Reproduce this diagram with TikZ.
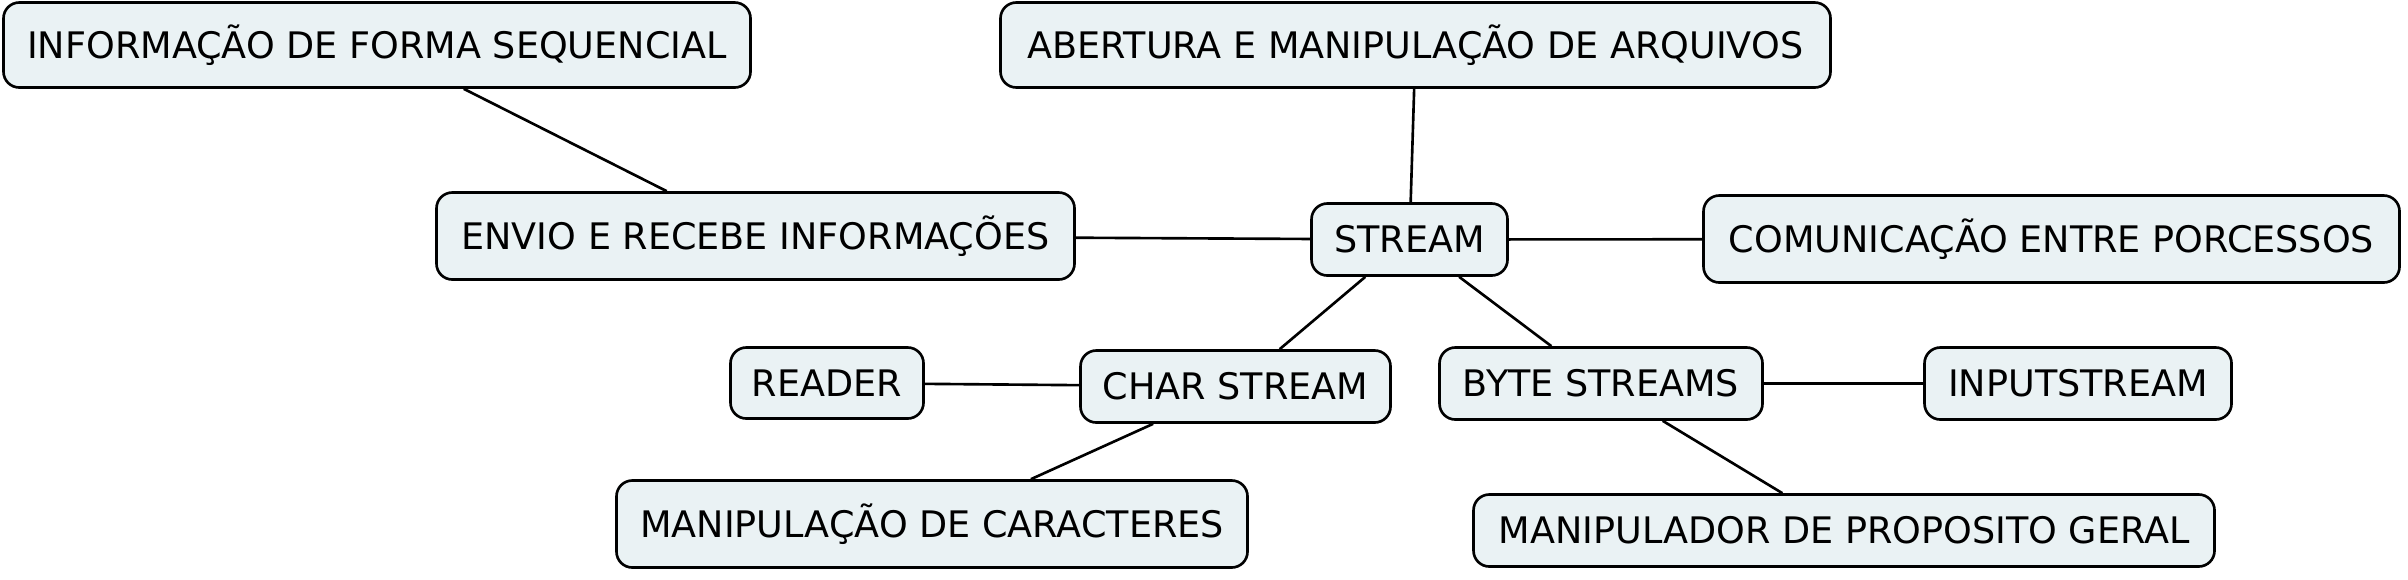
\documentclass[tikz,border=0pt]{standalone}
\usepackage{fontspec}
\setmainfont{DejaVu Sans}
\usepackage{tikz}
\usetikzlibrary{positioning}
\definecolor{nodefill}{RGB}{234,242,244}

\begin{document}
\begin{tikzpicture}[auto,line width=0.75pt,main node/.style={rectangle,rounded corners=4.5pt,draw,fill=nodefill,inner sep=0pt,font=\fontsize{10.4}{12}\selectfont}]
		\useasboundingbox (0,0) rectangle (24.08,5.79);
		\node[main node,minimum width=1.96cm,minimum height=0.72cm] (0) at (14.095,3.395) {STREAM};
		\node[main node,minimum width=7.47cm,minimum height=0.85cm] (1) at (3.77,5.34) {INFORMAÇÃO DE FORMA SEQUENCIAL};
		\node[main node,minimum width=8.30cm,minimum height=0.85cm] (2) at (14.155,5.34) {ABERTURA E MANIPULAÇÃO DE ARQUIVOS};
		\node[main node,minimum width=6.38cm,minimum height=0.87cm] (3) at (7.555,3.43) {ENVIO E RECEBE INFORMAÇÕES};
		\node[main node,minimum width=6.96cm,minimum height=0.87cm] (4) at (20.515,3.40) {COMUNICAÇÃO ENTRE PORCESSOS};
		\node[main node,minimum width=1.93cm,minimum height=0.71cm] (5) at (8.27,1.96) {READER};
		\node[main node,minimum width=3.10cm,minimum height=0.72cm] (6) at (12.355,1.925) {CHAR STREAM};
		\node[main node,minimum width=3.23cm,minimum height=0.72cm] (7) at (16.01,1.955) {BYTE STREAMS};
		\node[main node,minimum width=3.07cm,minimum height=0.72cm] (8) at (20.78,1.955) {INPUTSTREAM};
		\node[main node,minimum width=6.31cm,minimum height=0.87cm] (9) at (9.32,0.55) {MANIPULAÇÃO DE CARACTERES};
		\node[main node,minimum width=7.41cm,minimum height=0.72cm] (10) at (18.44,0.485) {MANIPULADOR DE PROPOSITO GERAL};
		\path
		(0) edge (2)
		 edge (3)
		 edge (4)
		 edge (6)
		 edge (7)
		(3) edge (1)
		(6) edge (5)
		 edge (9)
		(7) edge (8)
		 edge (10);
		\end{tikzpicture}
\end{document}
